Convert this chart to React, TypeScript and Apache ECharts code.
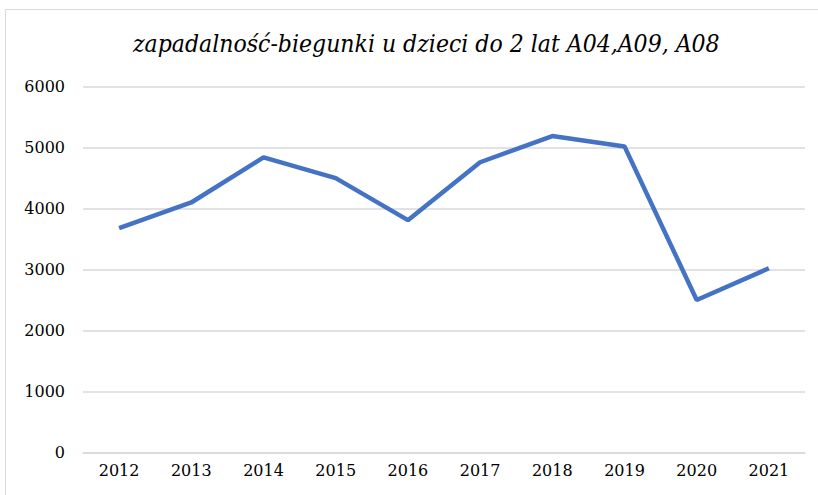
import React, { useEffect, useRef } from "react";
import * as echarts from "echarts";

const titleText = "zapadalność-biegunki u dzieci do 2 lat A04,A09, A08";
const years = ["2012", "2013", "2014", "2015", "2016", "2017", "2018", "2019", "2020", "2021"];
const values = [3680, 4100, 4840, 4500, 3810, 4760, 5190, 5020, 2500, 3020];

export default function App() {
  const ref = useRef<HTMLDivElement>(null);
  useEffect(() => {
    const chart = echarts.init(ref.current!, null, { renderer: "svg" });
    const font = "DejaVu Serif";
    chart.setOption({
      animation: false,
      backgroundColor: "#ffffff",
      title: {
        text: titleText,
        left: 128,
        top: 26,
        textStyle: {
          fontFamily: "DejaVu Serif Condensed, DejaVu Serif",
          fontStyle: "italic",
          fontWeight: "normal",
          fontSize: 24.5,
          color: "#000000",
        },
      },
      graphic: [
        {
          type: "rect",
          shape: { x: 5.5, y: 9.5, width: 830, height: 500 },
          style: { fill: "none", stroke: "#d9d9d9", lineWidth: 1 },
          silent: true,
        },
      ],
      grid: { left: 83, right: 13, top: 86.7, bottom: 495 - 452.3 },
      xAxis: {
        type: "category",
        data: years,
        boundaryGap: true,
        axisLine: { show: true, lineStyle: { color: "#d9d9d9", width: 1.5 } },
        axisTick: { show: false },
        axisLabel: { fontFamily: font, fontSize: 16, color: "#000000", margin: 10 },
      },
      yAxis: {
        type: "value",
        min: 0,
        max: 6000,
        interval: 1000,
        axisLine: { show: false },
        axisTick: { show: false },
        axisLabel: {
          fontFamily: font,
          fontSize: 16,
          color: "#000000",
          margin: 18,
          formatter: (v: number) => String(v),
        },
        splitLine: { lineStyle: { color: "#d9d9d9", width: 1.5 } },
      },
      series: [
        {
          type: "line",
          data: values,
          symbol: "none",
          lineStyle: { color: "#4472C4", width: 4.5 },
        },
      ],
    });
    return () => chart.dispose();
  }, []);
  return <div ref={ref} style={{ position: "fixed", left: 0, top: 0, width: 818, height: 495 }} />;
}
